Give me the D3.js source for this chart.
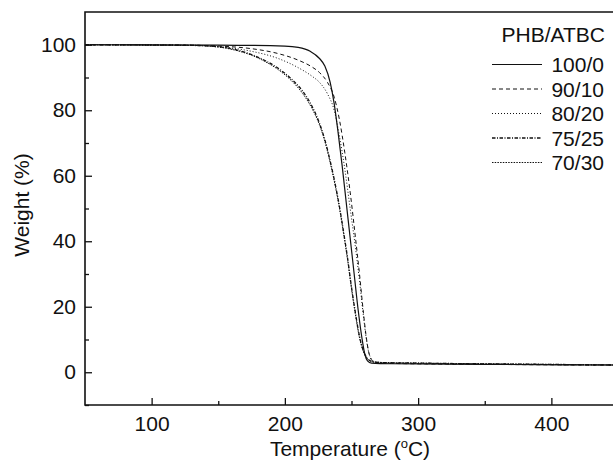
<!DOCTYPE html>
<html><head><meta charset="utf-8">
<script src="https://cdn.jsdelivr.net/npm/d3@7"></script>
<style>
body{margin:0;background:#fff;}
svg{display:block;font-family:"Liberation Sans",Arial,sans-serif;}
</style></head>
<body><svg id="c" width="613" height="463"></svg>
<script>
// ---- data ----
const seriesNames = ["100/0","90/10","80/20","75/25","70/30"];
const temp_100_0 = [50,150,200,210,219,226,230,234,237,240,243,246,249,252,255,258,260,262,265,280,350,450];
const wt_100_0   = [100,99.9,99.6,99.2,98,95.8,93.5,88.5,82,73,63,52,41,30,19,10,5.5,3.5,2.8,2.6,2.4,2.2];
const temp_90_10 = [50,120,150,175,195,210,220,226,232,237,241,245,249,253,256,259,261,263,265,268,280,350,450];
const wt_90_10   = [100,99.9,99.6,98.8,97.3,95.3,93.3,91.5,88.5,84,77,67,55,41,30,18,11,6,3.8,3,2.7,2.4,2.2];
const temp_80_20 = [50,120,150,175,195,210,220,226,232,237,241,245,249,253,256,259,261,263,265,268,280,350,450];
const wt_80_20   = [100,99.9,99.4,98,95.8,93,90.5,88.5,85,80,72,62,50,38,28,17,10.5,6,4,3.2,2.8,2.5,2.2];
const temp_75_25 = [50,130,150,165,175,185,195,205,213,220,226,230,234,238,241,244,247,250,253,256,259,262,265,270,300,400,450];
const wt_75_25   = [100,99.8,99.4,98.3,97,95.2,92.8,89.5,86,81.5,76,71,64.5,57,50.5,43,35,26,18,11,6.5,4.2,3.3,3.0,2.8,2.4,2.2];
const temp_70_30 = [50,130,150,165,175,185,195,205,213,220,226,230,234,238,241,244,247,250,253,256,259,262,265,270,300,400,450];
const wt_70_30   = [100,99.8,99.3,98.1,96.8,94.9,92.4,89,85.3,80.8,75.5,70.5,64,56.5,50,42.5,34.5,25.5,17.5,10.5,6.2,4.1,3.3,3.0,2.8,2.4,2.2];
const xMajorTicks = [100,200,300,400];
const xMinorTicks = [150,250,350];
const yMajorTicks = [0,20,40,60,80,100];
const yMinorTicks = [-10,10,30,50,70,90];
const legendTitle = "PHB/ATBC";

const temps = [temp_100_0,temp_90_10,temp_80_20,temp_75_25,temp_70_30];
const wts = [wt_100_0,wt_90_10,wt_80_20,wt_75_25,wt_70_30];
const dashes = [null,"4,3","1,2","3.5,1.5,1,1.5","1.5,1.2"];
const widths = [1.2,1,1,1.3,1];

// ---- layout ----
const L=85, R=618, T=12, B=405;
const svg = d3.select("#c");
const x = d3.scaleLinear().domain([50,450]).range([L,R]);
const y = d3.scaleLinear().domain([-10,110]).range([B,T]);

svg.append("defs").append("clipPath").attr("id","clip")
  .append("rect").attr("x",L).attr("y",T).attr("width",R-L).attr("height",B-T);

const line = d3.line().x(d=>x(d[0])).y(d=>y(d[1])).curve(d3.curveMonotoneX);
const g = svg.append("g").attr("clip-path","url(#clip)");
seriesNames.forEach((n,i)=>{
  const pts = temps[i].map((t,j)=>[t,wts[i][j]]);
  g.append("path").datum(pts).attr("d",line)
    .attr("fill","none").attr("stroke","#111")
    .attr("stroke-width",widths[i])
    .attr("stroke-dasharray",dashes[i]);
});

// axes
const fs = 21;
svg.append("g").attr("transform",`translate(0,${B})`)
  .call(d3.axisBottom(x).tickValues(xMajorTicks).tickSize(-7).tickPadding(11).tickFormat(d3.format("d")));
svg.append("g").attr("transform",`translate(0,${B})`)
  .call(d3.axisBottom(x).tickValues(xMinorTicks).tickSize(-4).tickFormat(""));
svg.append("g").attr("transform",`translate(${L},0)`)
  .call(d3.axisLeft(y).tickValues(yMajorTicks).tickSize(-7).tickPadding(9).tickFormat(d3.format("d")));
svg.append("g").attr("transform",`translate(${L},0)`)
  .call(d3.axisLeft(y).tickValues(yMinorTicks).tickSize(-4).tickFormat(""));
svg.selectAll(".domain").remove();
svg.selectAll(".tick line").attr("stroke","#111").attr("stroke-width",1.3);
svg.selectAll(".tick text").attr("font-size",fs).attr("fill","#111")
  .attr("font-family","'Liberation Sans',Arial,sans-serif");

// frame: left, top, bottom
svg.append("path").attr("d",`M${R},${T}H${L}V${B}H${R}`)
  .attr("fill","none").attr("stroke","#111").attr("stroke-width",1.6);

// titles
svg.append("text").attr("transform",`translate(29,205) rotate(-90)`)
  .attr("text-anchor","middle").attr("font-size",fs).attr("fill","#111").text("Weight (%)");
const xt = svg.append("text").attr("x",350).attr("y",456)
  .attr("text-anchor","middle").attr("font-size",fs).attr("fill","#111");
xt.append("tspan").text("Temperature (");
xt.append("tspan").attr("font-size",13).attr("dy",-8).text("o");
xt.append("tspan").attr("dy",8).text("C)");

// legend
svg.append("text").attr("x",605).attr("y",42).attr("text-anchor","end")
  .attr("font-size",fs).attr("fill","#111").text(legendTitle);
seriesNames.forEach((n,i)=>{
  const base = 72 + 24.5*i;
  const cy = base - 7.5;
  svg.append("line").attr("x1",492).attr("x2",542).attr("y1",cy).attr("y2",cy)
    .attr("stroke","#111").attr("stroke-width",widths[i]).attr("stroke-dasharray",dashes[i]);
  svg.append("text").attr("x",604).attr("y",base).attr("text-anchor","end")
    .attr("font-size",fs).attr("fill","#111").text(n);
});
</script></body></html>
